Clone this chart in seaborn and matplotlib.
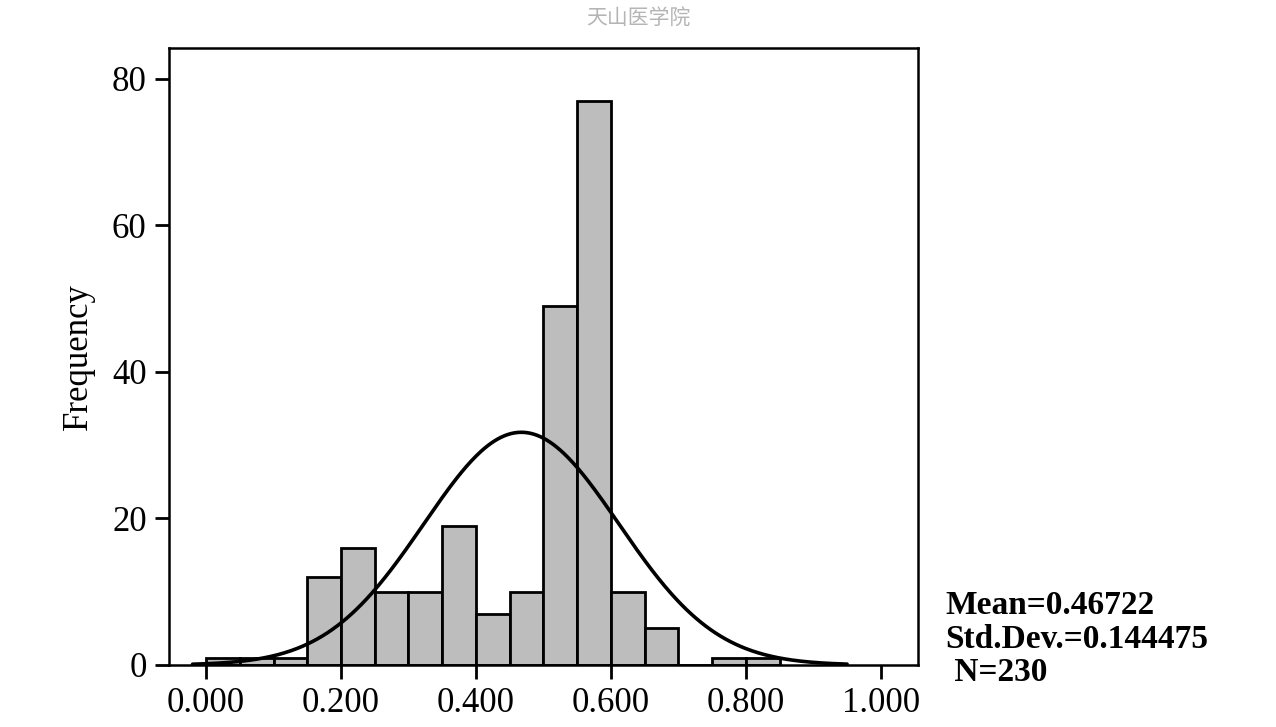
import numpy as np
import matplotlib
matplotlib.use("Agg")
import matplotlib.pyplot as plt
import seaborn as sns

# Data
bin_starts = [0.00, 0.05, 0.10, 0.15, 0.20, 0.25, 0.30, 0.35, 0.40, 0.45,
              0.50, 0.55, 0.60, 0.65, 0.70, 0.75, 0.80]
counts = [1, 1, 1, 12, 16, 10, 10, 19, 7, 10, 49, 77, 10, 5, 0, 1, 1]
bin_width = 0.05
mean_val = 0.46722
std_val = 0.144475
n_val = 230
x_ticks = [0.0, 0.2, 0.4, 0.6, 0.8, 1.0]
x_tick_labels = ["0.000", "0.200", "0.400", "0.600", "0.800", "1.000"]
y_ticks = [0, 20, 40, 60, 80]

sns.set_theme(style="ticks")
plt.rcParams['font.family'] = ['Liberation Serif', 'DejaVu Serif']
plt.rcParams['text.color'] = 'black'
plt.rcParams['axes.labelcolor'] = 'black'

fig = plt.figure(figsize=(12.76, 7.27), dpi=100)
ax = fig.add_axes([0.1324, 0.0853, 0.5870, 0.8487])

centers = np.array(bin_starts) + bin_width / 2
edges = list(bin_starts) + [bin_starts[-1] + bin_width]
sns.histplot(x=centers, weights=counts, bins=edges, ax=ax,
             color="#bdbdbd", edgecolor="black", linewidth=2, alpha=1)

# fitted normal curve from stated mean / std
xs = np.linspace(-0.02, 0.95, 400)
ys = n_val * bin_width / (std_val * np.sqrt(2 * np.pi)) * np.exp(-0.5 * ((xs - mean_val) / std_val) ** 2)
sns.lineplot(x=xs, y=ys, ax=ax, color="black", linewidth=2.6)

ax.set_xlim(-0.055, 1.055)
ax.set_ylim(0, 84.2)
ax.set_xticks(x_ticks)
ax.set_xticklabels(x_tick_labels)
ax.set_yticks(y_ticks)
ax.tick_params(axis="both", direction="out", length=10, width=2, labelsize=25, colors="black", pad=6)
for s in ax.spines.values():
    s.set_visible(True)
    s.set_linewidth(1.8)
    s.set_color("black")
ax.set_xlabel("")
ax.set_ylabel("Frequency", fontsize=25, labelpad=12, color="black")

fig.text(0.741, 0.121, "Mean=0.46722\nStd.Dev.=0.144475\n N=230", fontsize=24,
         fontweight="bold", va="center", ha="left", linespacing=1.1, color="black")
fig.text(0.5, 0.975, "天山医学院", fontsize=15, color="#b5b5b5", ha="center", va="center",
         family=["Noto Sans CJK SC", "DejaVu Sans"])

fig.savefig("out.png", dpi=100)
